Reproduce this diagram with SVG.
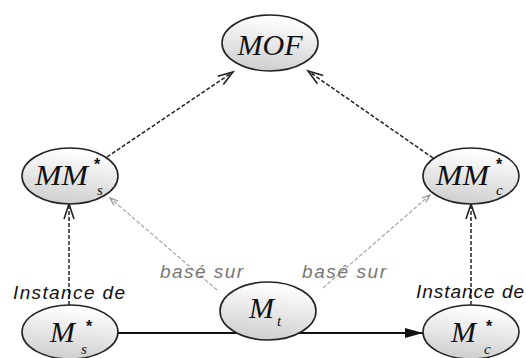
<svg xmlns="http://www.w3.org/2000/svg" width="526" height="358" viewBox="0 0 526 358">
<defs>
  <linearGradient id="g" x1="0.3" y1="0" x2="0.1" y2="1">
    <stop offset="0" stop-color="#ffffff"/>
    <stop offset="1" stop-color="#cbcbcb"/>
  </linearGradient>
  <marker id="open" markerUnits="userSpaceOnUse" markerWidth="20" markerHeight="14" refX="16" refY="6" orient="auto">
    <path d="M1,1 L16,6 L1,11" fill="none" stroke="#222" stroke-width="1.6"/>
  </marker>
  <marker id="openLight" markerUnits="userSpaceOnUse" markerWidth="12" markerHeight="10" refX="9" refY="4" orient="auto">
    <path d="M1,1 L9,4 L1,7" fill="none" stroke="#999" stroke-width="1.3"/>
  </marker>
  <marker id="filled" markerUnits="userSpaceOnUse" markerWidth="20" markerHeight="12" refX="18" refY="5" orient="auto">
    <path d="M0,0 L18,5 L0,10 Z" fill="#111"/>
  </marker>
</defs>
<style>
  .node { fill: url(#g); stroke: #222; stroke-width: 1.6; }
  .lbl { font-family: "Liberation Serif", "Times New Roman", serif; font-style: italic; fill: #111; }
  .big { font-size: 30px; }
  .small { font-size: 15px; }
  .star { font-family: "Liberation Sans", Arial, sans-serif; font-weight: bold; font-size: 16px; fill: #111; }
  .dark { fill: none; stroke: #222; stroke-width: 1.5; stroke-dasharray: 4 2; }
  .light { fill: none; stroke: #aaa; stroke-width: 1.3; stroke-dasharray: 4 2; }
  .solid { fill: none; stroke: #111; stroke-width: 2; }
  .elbl { font-family: "Liberation Sans", Arial, sans-serif; font-style: italic; font-size: 19px; }
</style>
<rect width="526" height="358" fill="#ffffff"/>
<g id="connectors">
  <line class="dark" x1="107" y1="157" x2="233" y2="72" marker-end="url(#open)"/>
  <line class="dark" x1="433" y1="158" x2="308" y2="71" marker-end="url(#open)"/>
  <line class="dark" x1="69" y1="305" x2="69" y2="204" marker-end="url(#open)"/>
  <line class="dark" x1="471" y1="305" x2="471" y2="204" marker-end="url(#open)"/>
  <line class="light" x1="217" y1="290" x2="110" y2="198" marker-end="url(#openLight)"/>
  <line class="light" x1="323" y1="288" x2="430" y2="195" marker-end="url(#openLight)"/>
  <line class="solid" x1="118" y1="333" x2="423" y2="333" marker-end="url(#filled)"/>
  <text class="elbl" x="13" y="299" fill="#111" textLength="112" lengthAdjust="spacing">Instance de</text>
  <text class="elbl" x="416" y="298" fill="#111" textLength="108" lengthAdjust="spacing">Instance de</text>
  <text class="elbl" x="160" y="278" fill="#777" textLength="83" lengthAdjust="spacing">basé sur</text>
  <text class="elbl" x="302" y="278" fill="#777" textLength="84" lengthAdjust="spacing">basé sur</text>
</g>
<g id="MOF">
  <ellipse class="node" cx="270" cy="43" rx="48" ry="28"/>
  <text class="lbl big" x="270" y="55" text-anchor="middle">MOF</text>
</g>
<g id="MMs">
  <ellipse class="node" cx="70" cy="176" rx="48" ry="28"/>
  <text class="lbl big" x="35" y="185" textLength="53" lengthAdjust="spacingAndGlyphs">MM</text>
  <text class="star" x="94" y="170">*</text>
  <text class="lbl small" x="97" y="195">s</text>
</g>
<g id="MMc">
  <ellipse class="node" cx="471" cy="176" rx="48" ry="28"/>
  <text class="lbl big" x="436" y="185" textLength="53" lengthAdjust="spacingAndGlyphs">MM</text>
  <text class="star" x="496" y="170">*</text>
  <text class="lbl small" x="496" y="195">c</text>
</g>
<g id="Ms">
  <ellipse class="node" cx="70" cy="332" rx="48" ry="27"/>
  <text class="lbl big" x="50" y="342">M</text>
  <text class="star" x="86" y="332">*</text>
  <text class="lbl small" x="81" y="354">s</text>
</g>
<g id="Mc">
  <ellipse class="node" cx="471" cy="332" rx="48" ry="27"/>
  <text class="lbl big" x="451" y="342">M</text>
  <text class="star" x="486" y="332">*</text>
  <text class="lbl small" x="484" y="354">c</text>
</g>
<g id="Mt">
  <ellipse class="node" cx="268" cy="311" rx="48" ry="29"/>
  <text class="lbl big" x="249" y="318">M</text>
  <text class="lbl small" x="277" y="326">t</text>
</g>
</svg>
